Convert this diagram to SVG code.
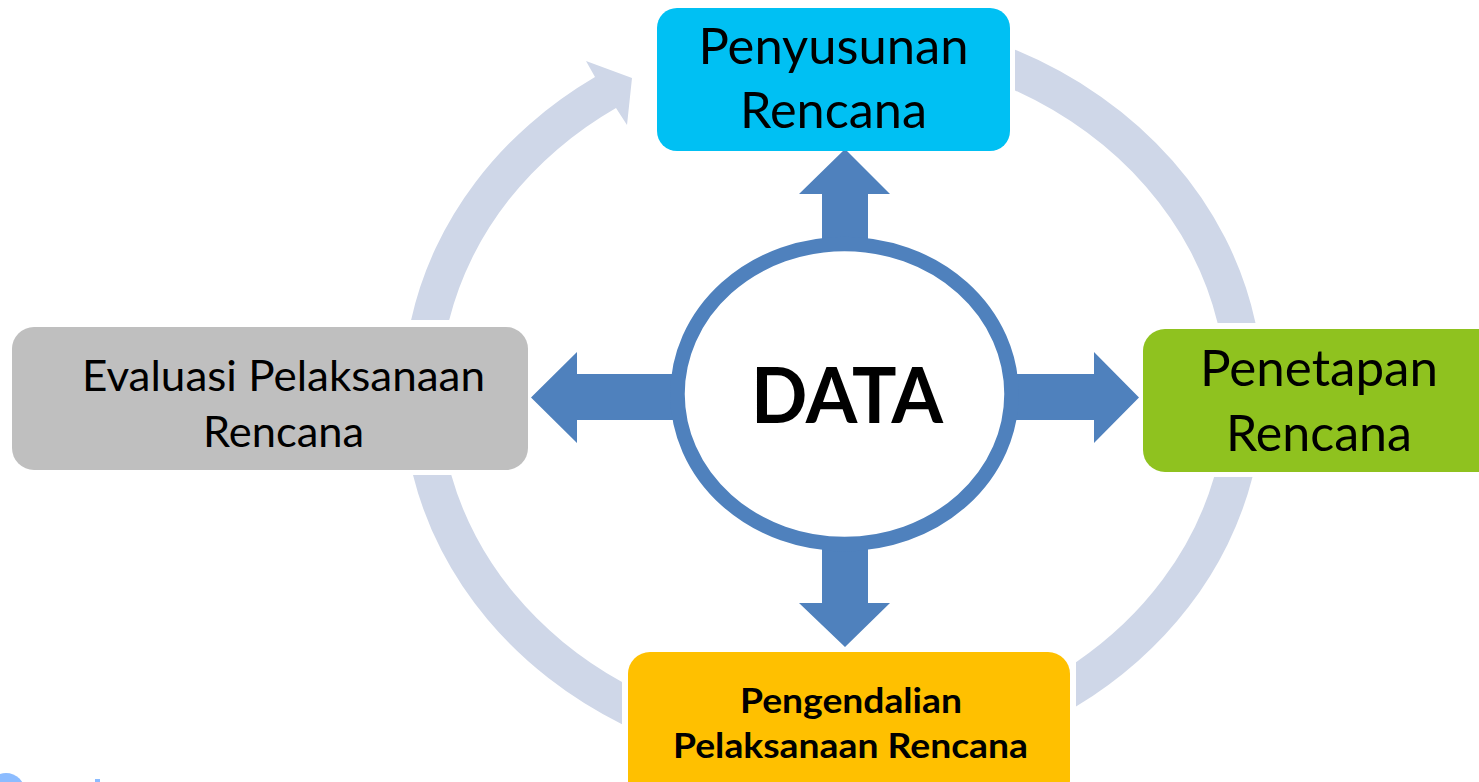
<svg xmlns="http://www.w3.org/2000/svg" width="1479" height="782" viewBox="0 0 1479 782">
<style>
.ring{fill:#CFD7E8}
.arr{fill:#4F81BD}
.t{font-family:Lato,"Liberation Sans",sans-serif;fill:#000;text-anchor:middle}
.big{font-size:50px}
.mid{font-size:43px}
.bold{font-weight:bold;font-size:34px}
.wm{fill:#8CBCFF}
</style>
<rect width="1479" height="782" fill="#FFFFFF"/>
<g id="connectors">
  <path class="ring" d="M 411.1 320 A 430 379.5 0 0 1 595 77 L 586 61 L 632 78 L 627 125 L 616 108 A 393 342 0 0 0 449.2 320 Z"/>
  <path class="ring" d="M 1015 49.7 A 430 379.5 0 0 1 1255.5 323 L 1217.6 323 A 393 342 0 0 0 1015 90.4 Z"/>
  <path class="ring" d="M 1252.5 477 A 430 379.5 0 0 1 1076 706.6 L 1076 662.3 A 393 342 0 0 0 1214.1 477 Z"/>
  <path class="ring" d="M 622 724.2 A 430 379.5 0 0 1 413 475 L 451.3 475 A 393 342 0 0 0 622 682 Z"/>
  <polygon class="arr" points="822,300 822,194 799,194 845,149 890,194 868,194 868,300"/>
  <polygon class="arr" points="822,500 822,603 799,603 845,647 890,603 868,603 868,500"/>
  <polygon class="arr" points="700,374 577,374 577,352 531,397.5 577,443 577,420 700,420"/>
  <polygon class="arr" points="990,374 1094,374 1094,352 1139,397.5 1094,443 1094,420 990,420"/>
</g>
<g id="node-data">
  <ellipse cx="844.5" cy="394" rx="167" ry="150" fill="#FFFFFF" stroke="#4F81BD" stroke-width="14.5"/>
  <text class="t" x="847" y="423" font-size="77" font-weight="bold" textLength="192" lengthAdjust="spacingAndGlyphs">DATA</text>
</g>
<g id="node-penyusunan">
  <rect x="657" y="8" width="353" height="143" rx="20" fill="#00C0F3"/>
  <text class="t big" x="833.5" y="64" textLength="270" lengthAdjust="spacingAndGlyphs">Penyusunan</text>
  <text class="t big" x="833.5" y="128" textLength="187" lengthAdjust="spacingAndGlyphs">Rencana</text>
</g>
<g id="node-penetapan">
  <rect x="1143" y="329" width="360" height="143" rx="22" fill="#8FC21F"/>
  <text class="t big" x="1319" y="386" textLength="238" lengthAdjust="spacingAndGlyphs">Penetapan</text>
  <text class="t big" x="1319" y="451" textLength="186" lengthAdjust="spacingAndGlyphs">Rencana</text>
</g>
<g id="node-evaluasi">
  <rect x="12" y="327" width="516" height="143" rx="22" fill="#BFBFBF"/>
  <text class="t mid" x="283.5" y="391" textLength="403" lengthAdjust="spacingAndGlyphs">Evaluasi Pelaksanaan</text>
  <text class="t mid" x="283.5" y="447" textLength="161" lengthAdjust="spacingAndGlyphs">Rencana</text>
</g>
<g id="node-pengendalian">
  <rect x="628" y="652" width="442" height="150" rx="22" fill="#FFC000"/>
  <text class="t bold" x="851" y="713" textLength="222" lengthAdjust="spacingAndGlyphs">Pengendalian</text>
  <text class="t bold" x="850.5" y="758" textLength="355" lengthAdjust="spacingAndGlyphs">Pelaksanaan Rencana</text>
</g>
<g id="watermark">
  <circle class="wm" cx="6" cy="792" r="19"/>
  <rect class="wm" x="95" y="779" width="5" height="4"/>
</g>
</svg>
